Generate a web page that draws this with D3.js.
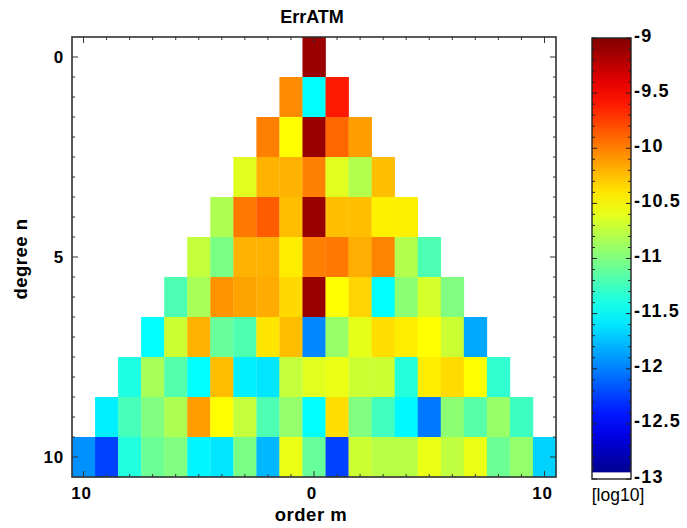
<!DOCTYPE html>
<html>
<head>
<meta charset="utf-8">
<script src="https://cdn.jsdelivr.net/npm/d3@7"></script>
<style>
  body { margin: 0; background: #fff; }
  text { font-family: "Liberation Sans", Arial, sans-serif; }
</style>
</head>
<body>
<svg id="chart" width="687" height="528"></svg>
<script>
// log10 error per degree n (rows), orders m = -n..n
const degrees = d3.range(0, 11);
const errByDegree = [
  [-9.1],
  [-10.05, -11.5, -9.6],
  [-10.0, -10.5, -9.1, -9.9, -10.12],
  [-10.62, -10.2, -10.2, -10.0, -10.62, -10.8, -10.25],
  [-10.82, -9.97, -9.86, -10.24, -9.1, -10.25, -10.25, -10.44, -10.44],
  [-10.73, -11.02, -10.2, -10.2, -10.43, -10.0, -9.97, -10.18, -10.02, -10.8, -11.2],
  [-11.2, -10.84, -10.08, -10.14, -10.17, -10.35, -9.1, -10.5, -10.33, -11.5, -10.95, -10.66, -11.0],
  [-11.5, -10.7, -10.2, -11.1, -11.19, -10.4, -10.24, -11.97, -10.9, -10.6, -10.37, -10.43, -10.5, -10.7, -11.84],
  [-11.39, -10.84, -11.17, -11.5, -10.24, -11.56, -11.6, -10.73, -10.62, -10.58, -10.7, -10.7, -11.36, -10.43, -10.36, -10.5, -11.31],
  [-11.56, -11.23, -11.0, -10.82, -10.12, -10.5, -10.73, -11.2, -10.92, -11.5, -10.37, -11.0, -11.25, -11.52, -12.03, -10.95, -11.16, -10.9, -11.26],
  [-11.93, -12.25, -11.37, -11.08, -11.0, -11.53, -11.6, -11.02, -11.78, -10.58, -11.1, -12.25, -10.7, -10.78, -10.78, -10.58, -10.75, -10.58, -11.08, -10.92, -11.68]
];
const degreeTicks = [0, 5, 10];
const orderTicks = [-10, 0, 10];
const barTicks = [-9, -9.5, -10, -10.5, -11, -11.5, -12, -12.5, -13];

const svg = d3.select("#chart");

const x = d3.scaleLinear().domain([-10.5, 10.5]).range([72, 556]);
const y = d3.scaleLinear().domain([-0.5, 10.5]).range([37, 477]);
const cy = d3.scaleLinear().domain([-13, -9]).range([479, 38]);

// jet colour map
function jet(v) {
  const t = Math.max(0, Math.min(1, (v + 13) / 4));
  const cl = a => Math.max(0, Math.min(1, a));
  const r = cl(Math.min(4 * t - 1.5, -4 * t + 4.5));
  const g = cl(Math.min(4 * t - 0.5, -4 * t + 3.5));
  const b = cl(Math.min(4 * t + 0.5, -4 * t + 2.5));
  return d3.rgb(r * 255, g * 255, b * 255).toString();
}

const cells = [];
errByDegree.forEach((row, n) => {
  row.forEach((v, i) => cells.push({ n: n, m: i - n, v: v }));
});

const cw = x(1) - x(0), ch = y(1) - y(0);
svg.append("g")
  .selectAll("rect")
  .data(cells)
  .enter()
  .append("rect")
  .attr("x", d => x(d.m - 0.5))
  .attr("y", d => y(d.n - 0.5))
  .attr("width", cw + 0.3)
  .attr("height", ch + 0.3)
  .attr("fill", d => jet(d.v));

// ticks
const tickG = svg.append("g").attr("stroke", "#333").attr("stroke-width", 1);
d3.range(-10, 11).forEach(m => {
  const len = orderTicks.includes(m) ? 6 : 3;
  tickG.append("line").attr("x1", x(m)).attr("x2", x(m)).attr("y1", 477).attr("y2", 477 - len);
  tickG.append("line").attr("x1", x(m)).attr("x2", x(m)).attr("y1", 37).attr("y2", 37 + len);
});
d3.range(0, 10.01, 0.5).forEach(n => {
  const len = degreeTicks.includes(n) ? 6 : 3;
  tickG.append("line").attr("y1", y(n)).attr("y2", y(n)).attr("x1", 72).attr("x2", 72 + len);
  tickG.append("line").attr("y1", y(n)).attr("y2", y(n)).attr("x1", 556).attr("x2", 556 - len);
});

svg.append("rect")
  .attr("x", 72).attr("y", 37).attr("width", 484).attr("height", 440)
  .attr("fill", "none").attr("stroke", "#333").attr("stroke-width", 1.6);

// tick labels
svg.append("g").selectAll("text").data(degreeTicks).enter().append("text")
  .attr("x", 64).attr("y", d => y(d) + 6)
  .attr("text-anchor", "end").attr("font-size", 17).attr("font-weight", "bold")
  .attr("letter-spacing", 0.8)
  .text(d => d);
svg.append("g").selectAll("text").data(orderTicks).enter().append("text")
  .attr("x", d => x(d) - 2).attr("y", 499)
  .attr("text-anchor", "middle").attr("font-size", 17).attr("font-weight", "bold")
  .attr("letter-spacing", 0.8)
  .text(d => Math.abs(d));

svg.append("text").attr("x", 312).attr("y", 23).attr("text-anchor", "middle")
  .attr("font-size", 18).attr("font-weight", "bold").text("ErrATM");
svg.append("text").attr("x", 311).attr("y", 521).attr("text-anchor", "middle")
  .attr("font-size", 18.5).attr("font-weight", "bold").attr("letter-spacing", 0.5).text("order m");
svg.append("text").attr("transform", "translate(27,259) rotate(-90)").attr("text-anchor", "middle")
  .attr("font-size", 18.5).attr("font-weight", "bold").attr("letter-spacing", 0.5).text("degree n");

// colour bar
const bx = 592, bw = 39;
const defs = svg.append("defs");
const grad = defs.append("linearGradient").attr("id", "jetGrad")
  .attr("x1", 0).attr("y1", 1).attr("x2", 0).attr("y2", 0);
d3.range(0, 1.0001, 0.05).forEach(t => {
  grad.append("stop").attr("offset", t).attr("stop-color", jet(-13 + 4 * t));
});
svg.append("rect").attr("x", bx).attr("y", cy(-9)).attr("width", bw)
  .attr("height", cy(-13) - cy(-9)).attr("fill", "url(#jetGrad)");
svg.append("rect").attr("x", bx).attr("y", cy(-12.94)).attr("width", bw)
  .attr("height", cy(-13) - cy(-12.94)).attr("fill", "#fff");

const barTickG = svg.append("g").attr("stroke", "#222").attr("stroke-width", 1);
d3.range(-13, -8.99, 0.1).forEach(v => {
  const major = Math.abs(v * 2 - Math.round(v * 2)) < 1e-6;
  const len = major ? 5 : 3;
  barTickG.append("line").attr("x1", bx).attr("x2", bx + len).attr("y1", cy(v)).attr("y2", cy(v));
  barTickG.append("line").attr("x1", bx + bw).attr("x2", bx + bw - len).attr("y1", cy(v)).attr("y2", cy(v));
});
svg.append("rect").attr("x", bx).attr("y", cy(-9)).attr("width", bw)
  .attr("height", cy(-13) - cy(-9)).attr("fill", "none").attr("stroke", "#222").attr("stroke-width", 1.4);

svg.append("g").selectAll("text").data(barTicks).enter().append("text")
  .attr("x", bx + bw + 3).attr("y", d => cy(d) + 3.5)
  .attr("font-size", 18).attr("font-weight", "bold").attr("letter-spacing", 1.2)
  .text(d => d);
svg.append("text").attr("x", 618).attr("y", 501).attr("text-anchor", "middle")
  .attr("font-size", 17.5).text("[log10]");
</script>
</body>
</html>
